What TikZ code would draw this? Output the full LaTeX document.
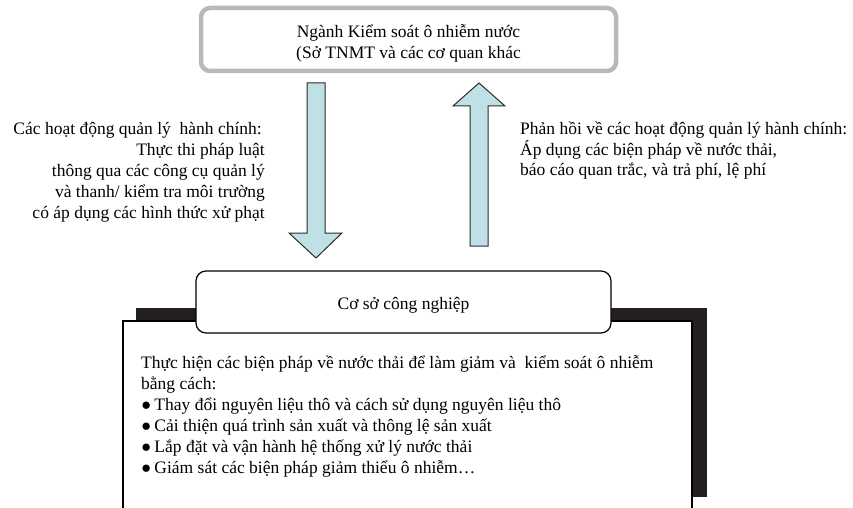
\documentclass[tikz,border=0pt]{standalone}
\usepackage{fontspec}
\setmainfont{Liberation Serif}
\usetikzlibrary{calc}
\definecolor{arrowfill}{HTML}{BFE0E4}
\definecolor{arrowline}{HTML}{2B2B2B}
\definecolor{topframe}{HTML}{B9B9B9}
\definecolor{shadowblk}{HTML}{231F20}
\newcommand{\dotmark}{{\fontsize{17}{17}\selectfont●}\hspace{3pt}}
\tikzset{
  txt/.style={inner sep=0pt, font=\fontsize{17.5}{21}\selectfont},
  topbox/.style={draw=topframe, line width=4.5pt, rounded corners=9pt, fill=white,
    minimum width=415pt, minimum height=63pt, inner sep=0pt},
  unitbox/.style={draw=black, line width=1.2pt, rounded corners=10pt, fill=white,
    minimum width=415pt, minimum height=62pt, inner sep=0pt},
  blockarrow/.style={fill=arrowfill, draw=arrowline, line width=1pt, line join=miter}
}
\begin{document}
\begin{tikzpicture}[x=1pt, y=-1pt]
  \useasboundingbox (0,0) rectangle (853,508);

  % regulator box at the top
  \node[topbox] (agency) at (408.5,39.5) {};
  \node[txt, align=center] (agencytext) at ($(agency.center)+(0,3.5)$)
    {Ngành Kiểm soát ô nhiễm nước\\(Sở TNMT và các cơ quan khác};

  % downward block arrow: administrative actions
  \coordinate (dtop) at (316,83);
  \coordinate (dtip) at (316,258);
  \draw[blockarrow] ($(dtop)+(-9,0)$) -- ($(dtop)+(9,0)$)
    -- ($(dtip)+(9,-25)$) -- ($(dtip)+(26,-25)$)
    -- (dtip) -- ($(dtip)+(-27,-25)$)
    -- ($(dtip)+(-9,-25)$) -- cycle;

  % upward block arrow: feedback
  \coordinate (ubot) at (479,246);
  \coordinate (utip) at (479,83);
  \draw[blockarrow] ($(ubot)+(-9,0)$) -- ($(ubot)+(9,0)$)
    -- ($(utip)+(9,23)$) -- ($(utip)+(26,23)$)
    -- (utip) -- ($(utip)+(-26,23)$)
    -- ($(utip)+(-9,23)$) -- cycle;

  % left caption
  \node[txt, anchor=base east] (l1) at (262,134) {Các hoạt động quản lý\ \ hành chính:};
  \node[txt, anchor=base east] (l2) at (265,155) {Thực thi pháp luật};
  \node[txt, anchor=base east] (l3) at (265,176) {thông qua các công cụ quản lý};
  \node[txt, anchor=base east] (l4) at (265,197) {và thanh/ kiểm tra môi trường};
  \node[txt, anchor=base east] (l5) at (265,218) {có áp dụng các hình thức xử phạt};

  % right caption
  \node[txt, anchor=base west] (r1) at (520,134) {Phản hồi về các hoạt động quản lý hành chính:};
  \node[txt, anchor=base west] (r2) at (520,155) {Áp dụng các biện pháp về nước thải,};
  \node[txt, anchor=base west] (r3) at (520,175) {báo cáo quan trắc, và trả phí, lệ phí};

  % industrial unit: shadowed panel with a rounded title tab
  \fill[shadowblk] (136,308) rectangle (707,497);
  \draw[black, line width=1.2pt, fill=white] (123,520) -- (123,321) -- (692,321) -- (692,520);
  \node[unitbox] (unit) at (403.5,302) {};
  \node[txt] (unittext) at ($(unit.center)+(0,3)$) {Cơ sở công nghiệp};

  % measures listed in the panel
  \node[txt, anchor=base west] (b1) at (141,368) {Thực hiện các biện pháp về nước thải để làm giảm và\ \ kiểm soát ô nhiễm};
  \node[txt, anchor=base west] (b2) at (141,389) {bằng cách:};
  \node[txt, anchor=base west] (b3) at (141,410) {\dotmark Thay đổi nguyên liệu thô và cách sử dụng nguyên liệu thô};
  \node[txt, anchor=base west] (b4) at (141,431) {\dotmark Cải thiện quá trình sản xuất và thông lệ sản xuất};
  \node[txt, anchor=base west] (b5) at (141,452) {\dotmark Lắp đặt và vận hành hệ thống xử lý nước thải};
  \node[txt, anchor=base west] (b6) at (141,473) {\dotmark Giám sát các biện pháp giảm thiểu ô nhiễm…};
\end{tikzpicture}
\end{document}
